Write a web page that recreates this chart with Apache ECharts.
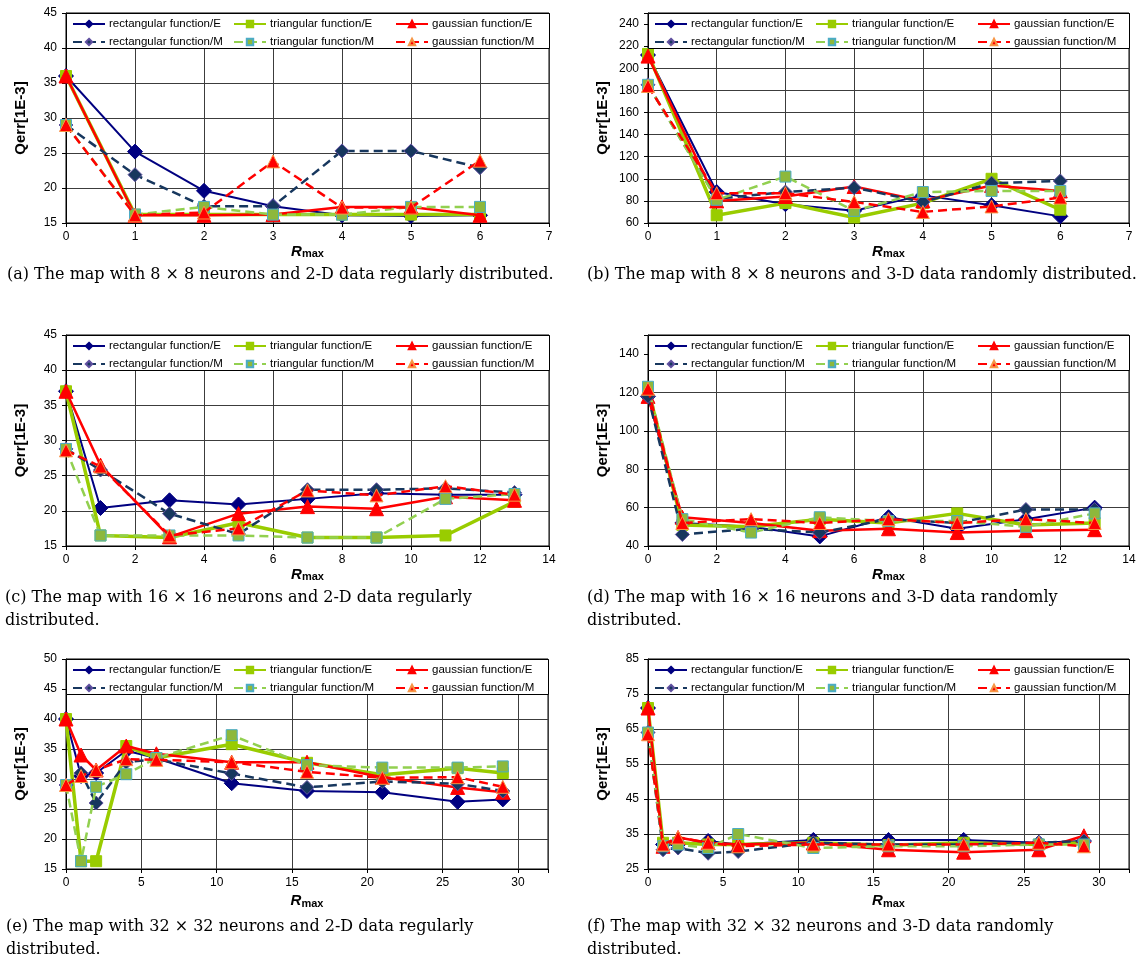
<!DOCTYPE html>
<html><head><meta charset="utf-8">
<script src="https://cdn.jsdelivr.net/npm/echarts@6/dist/echarts.min.js"></script>
<style>html,body{margin:0;padding:0;background:#fff}#c{width:1142px;height:961px}</style>
</head><body><div id="c"></div>
<script>
const names = ['rectangular function/E','triangular function/E','gaussian function/E','rectangular function/M','triangular function/M','gaussian function/M'];

// (a) 8x8, 2-D regular
const xA = [0,1,2,3,4,5,6];
const aRectE  = [36, 25.2, 19.6, 17.4, 16.1, 16.0, 16.1];
const aTriE   = [36, 16.2, 16.2, 16.2, 16.2, 16.2, 16.2];
const aGaussE = [36, 16.1, 16.1, 16.2, 17.3, 17.3, 16.1];
const aRectM  = [29, 21.9, 17.4, 17.4, 25.3, 25.3, 22.9];
const aTriM   = [29, 16.2, 17.3, 16.2, 16.2, 17.3, 17.3];
const aGaussM = [29, 16.1, 16.5, 23.8, 17.2, 17.2, 23.9];

// (b) 8x8, 3-D random
const xB = [0,1,2,3,4,5,6];
const bRectE  = [212, 88, 77, 71, 85, 76, 66];
const bTriE   = [213, 67, 78, 65, 78, 100, 72];
const bGaussE = [211, 80, 84, 93, 80, 94, 89];
const bRectM  = [185, 82, 88, 92, 79, 96, 98];
const bTriM   = [185, 81, 102, 71, 88, 89, 89];
const bGaussM = [184, 87, 87, 79, 70, 75, 83];

// (c) 16x16, 2-D regular
const xC = [0,1,3,5,7,9,11,13];
const cRectE  = [37, 20.4, 21.5, 20.9, 21.7, 22.5, 22.3, 22.3];
const cTriE   = [37, 16.5, 16.2, 18.3, 16.2, 16.2, 16.5, 21.3];
const cGaussE = [37, 26.5, 16.3, 19.6, 20.6, 20.3, 22.0, 21.5];
const cRectM  = [28.8, 25.8, 19.6, 16.7, 23.0, 23.0, 23.2, 22.6];
const cTriM   = [28.8, 16.5, 16.5, 16.5, 16.2, 16.2, 21.7, 22.4];
const cGaussM = [28.6, 26.3, 16.5, 17.5, 22.9, 22.2, 23.5, 22.3];

// (d) 16x16, 3-D random
const xD = [0,1,3,5,7,9,11,13];
const dRectE  = [118, 52, 50, 45, 55, 49, 54, 60];
const dTriE   = [122, 51, 50, 54, 52, 57, 51, 52];
const dGaussE = [118, 55, 52, 48, 49, 47, 48, 48.5];
const dRectM  = [118, 46, 49, 47, 54, 52, 59, 59];
const dTriM   = [123, 54, 47, 55, 53, 53, 50, 57];
const dGaussM = [122, 52, 54, 52, 54, 52, 54, 52];

// (e) 32x32, 2-D regular
const xE = [0,1,2,4,6,11,16,21,26,29];
const eRectE  = [40, 30.5, 31, 34.7, 33.5, 29.3, 28, 27.8, 26.2, 26.6];
const eTriE   = [40, 16.3, 16.3, 35.5, 33.5, 35.8, 32.7, 30.7, 31.8, 31];
const eGaussE = [40, 34, 31.5, 35.5, 34.2, 32.8, 32.8, 30.3, 28.6, 27.8];
const eRectM  = [29, 31, 26, 32.8, 33.3, 30.9, 28.6, 29.6, 29.2, 28];
const eTriM   = [29, 16.3, 28.7, 30.8, 33.5, 37.3, 32.3, 31.9, 31.9, 32.1];
const eGaussM = [29, 30.5, 31.5, 33.3, 33.2, 32.8, 31.2, 30.2, 30.3, 28.7];

// (f) 32x32, 3-D random
const xF = [0,1,2,4,6,11,16,21,26,29];
const fRectE  = [71, 32, 32, 33, 32, 33.3, 33.3, 33.3, 32.5, 33];
const fTriE   = [71, 32.5, 32.5, 32, 32, 32.5, 31.8, 32.5, 32, 32.5];
const fGaussE = [71, 31.5, 34, 32.5, 32, 32.5, 30.5, 29.8, 30.5, 34.5];
const fRectM  = [64, 30.5, 31, 29.5, 30, 32.5, 32, 32, 32.5, 33];
const fTriM   = [64, 31.5, 32, 31, 35, 31, 31.5, 31.5, 32, 32];
const fGaussM = [63.5, 32, 34, 32.5, 31.5, 32, 32, 32, 32.5, 31.5];

const captions = [
  ['(a) The map with 8 \u00d7 8 neurons and 2-D data regularly distributed.'],
  ['(b) The map with 8 \u00d7 8 neurons and 3-D data randomly distributed.'],
  ['(c) The map with 16 \u00d7 16 neurons and 2-D data regularly', 'distributed.'],
  ['(d) The map with 16 \u00d7 16 neurons and 3-D data randomly', 'distributed.'],
  ['(e) The map with 32 \u00d7 32 neurons and 2-D data regularly', 'distributed.'],
  ['(f) The map with 32 \u00d7 32 neurons and 3-D data randomly', 'distributed.']
];

const panels = [
  {x: xA, ys: [aRectE,aTriE,aGaussE,aRectM,aTriM,aGaussM], xr:[0,7,1], yr:[15,45,5]},
  {x: xB, ys: [bRectE,bTriE,bGaussE,bRectM,bTriM,bGaussM], xr:[0,7,1], yr:[60,250,20]},
  {x: xC, ys: [cRectE,cTriE,cGaussE,cRectM,cTriM,cGaussM], xr:[0,14,2], yr:[15,45,5]},
  {x: xD, ys: [dRectE,dTriE,dGaussE,dRectM,dTriM,dGaussM], xr:[0,14,2], yr:[40,150,20]},
  {x: xE, ys: [eRectE,eTriE,eGaussE,eRectM,eTriM,eGaussM], xr:[0,32,5], yr:[15,50,5]},
  {x: xF, ys: [fRectE,fTriE,fGaussE,fRectM,fTriM,fGaussM], xr:[0,32,5], yr:[25,85,10]}
];

// layout
const layout = [
  {l:66,  t:13,  w:483, h:210, nameGapX:16, cap:[7, [275]]},
  {l:648, t:13,  w:481, h:210, nameGapX:16, cap:[587, [275]]},
  {l:66,  t:335, w:483, h:211, nameGapX:16, cap:[5, [598, 621]]},
  {l:648, t:335, w:481, h:211, nameGapX:16, cap:[587, [598, 621]]},
  {l:66,  t:659, w:482, h:210, nameGapX:24, cap:[6, [927, 950]]},
  {l:648, t:659, w:481, h:210, nameGapX:24, cap:[587, [927, 950]]}
];

const sty = [
  {c:'#000080', w:2,   t:'solid', s:'diamond',  z:15, f:'#000080', b:'#000080'},
  {c:'#99CC00', w:3.5, t:'solid', s:'rect',     z:11, f:'#99CC00', b:'#99CC00'},
  {c:'#FF0000', w:2.5, t:'solid', s:'triangle', z:14, f:'#FF0000', b:'#FF0000'},
  {c:'#17375E', w:2.5, t:[9,5],   s:'diamond',  z:14, f:'#17375E', b:'#6050A0'},
  {c:'#92D050', w:2.5, t:[9,5],   s:'rect',     z:11, f:'#8DB83C', b:'#4BACC6'},
  {c:'#FF0000', w:2.5, t:[9,5],   s:'triangle', z:13, f:'#FF0000', b:'#F79646'}
];

const FONT = 'Liberation Sans, Arial, sans-serif';
const grids = [], xAxes = [], yAxes = [], series = [], legends = [], graphics = [];

panels.forEach((p, i) => {
  const L = layout[i];
  grids.push({left:L.l, top:L.t, width:L.w, height:L.h, show:true, borderColor:'#000', borderWidth:1, backgroundColor:'transparent', containLabel:false});
  xAxes.push({
    type:'value', gridIndex:i, min:p.xr[0], max:p.xr[1], interval:p.xr[2],
    axisLine:{show:true, onZero:false, lineStyle:{color:'#000', width:1}},
    axisTick:{show:true, length:4, lineStyle:{color:'#000'}},
    axisLabel:{color:'#000', fontSize:12, fontFamily:FONT, margin:8,
      formatter: v => (v % p.xr[2] === 0 ? String(v) : '')},
    splitLine:{show:true, lineStyle:{color:'#3c3c3c', width:1}},
    name:'{r|R}{s|max}', nameLocation:'middle', nameGap:L.nameGapX,
    nameTextStyle:{rich:{r:{fontSize:15, fontWeight:'bold', fontStyle:'italic', fontFamily:FONT, color:'#000'},
                         s:{fontSize:11, fontWeight:'bold', fontFamily:FONT, color:'#000', padding:[5,0,0,0]}}}
  });
  yAxes.push({
    type:'value', gridIndex:i, min:p.yr[0], max:p.yr[1], interval:p.yr[2],
    axisLine:{show:true, lineStyle:{color:'#000', width:1}},
    axisTick:{show:true, length:4, lineStyle:{color:'#000'}},
    axisLabel:{color:'#000', fontSize:12, fontFamily:FONT, margin:9,
      formatter: v => ((v - p.yr[0]) % p.yr[2] === 0 ? String(v) : '')},
    splitLine:{show:true, lineStyle:{color:'#3c3c3c', width:1}},
    name:'Qerr[1E-3]', nameLocation:'middle', nameGap:38, nameRotate:90,
    nameTextStyle:{fontSize:15, fontWeight:'bold', fontFamily:FONT, color:'#000'}
  });
  p.ys.forEach((ys, k) => {
    const s = sty[k];
    series.push({
      type:'line', name:names[k], xAxisIndex:i, yAxisIndex:i,
      data: p.x.map((xv, j) => [xv, ys[j]]),
      symbol:s.s, symbolSize:s.z, showAllSymbol:true,
      lineStyle:{color:s.c, width:s.w, type:s.t},
      itemStyle:{color:s.f, borderColor:s.b, borderWidth:1},
      emphasis:{disabled:true}, animation:false, z:2 + k*0.1
    });
  });
  // legend box
  graphics.push({type:'rect', z:50, shape:{x:L.l + 0.5, y:L.t + 0.5, width:L.w, height:35},
    style:{fill:'#fff', stroke:'#000', lineWidth:1}});
  [6, 167, 329].forEach((dx, c) => {
    legends.push({
      orient:'vertical', left:L.l + dx, top:L.t + 4, padding:0, itemGap:4,
      itemWidth:32, itemHeight:8, z:60, selectedMode:false,
      data:[names[c], names[c+3]],
      textStyle:{fontSize:11.5, fontFamily:FONT, color:'#000', lineHeight:14, padding:[0,0,0,-1]}
    });
  });
  L.cap[1].forEach((cy, li) => {
    graphics.push({type:'text', z:50, x:L.cap[0], y:cy,
      style:{text:captions[i][li], font:'16px "DejaVu Serif", serif', fill:'#000', verticalAlign:'middle'}});
  });
});

const chart = echarts.init(document.getElementById('c'), null, {renderer:'canvas'});
chart.setOption({
  animation:false,
  grid:grids, xAxis:xAxes, yAxis:yAxes, series:series, legend:legends,
  graphic:{elements:graphics}
});
</script></body></html>
